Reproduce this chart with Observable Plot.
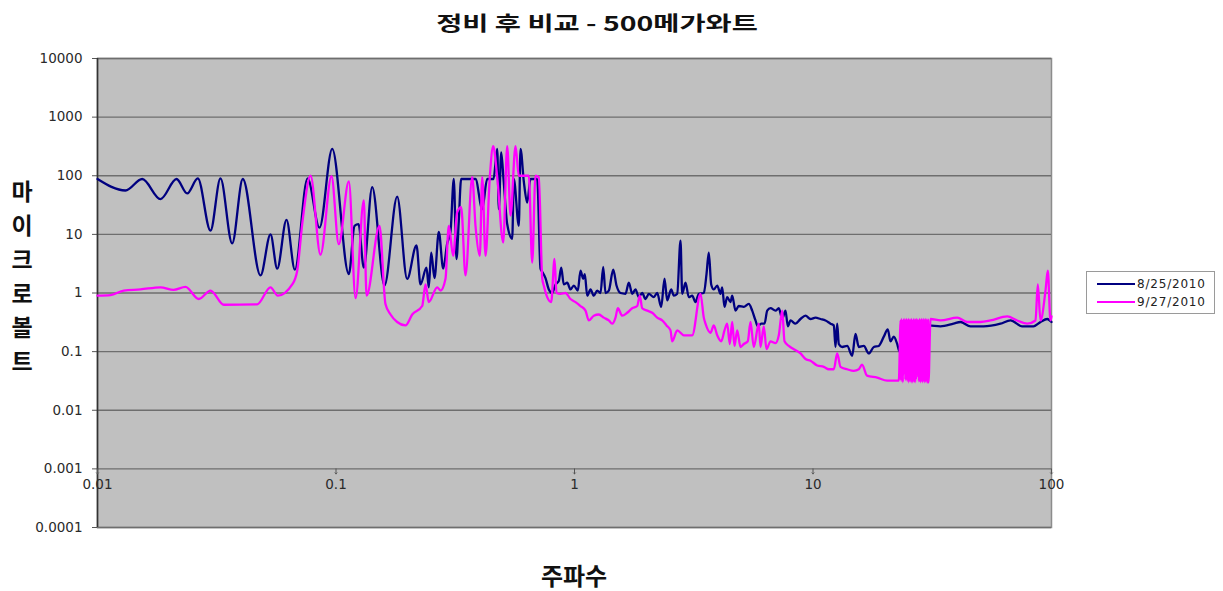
<!DOCTYPE html>
<html><head><meta charset="utf-8">
<script src="https://cdn.jsdelivr.net/npm/d3@7"></script>
<script src="https://cdn.jsdelivr.net/npm/@observablehq/plot@0.6"></script>
<style>
body{margin:0;background:#fff;}
#wrap{position:relative;width:1223px;height:591px;overflow:hidden;background:#fff;}
#wrap svg{position:absolute;left:0;top:0;}
.lbl{position:absolute;font-family:"Noto Sans CJK KR";font-weight:bold;color:#111;white-space:nowrap;}
#title{left:597px;top:22px;font-size:20px;transform:translate(-50%,-50%) scaleX(1.42);}
#xlabel{left:574px;top:574px;font-size:24px;transform:translate(-50%,-50%);}
#ylabel{left:22px;top:275px;font-size:23px;line-height:34px;text-align:center;transform:translate(-50%,-50%);}
#legend{position:absolute;left:1086px;top:271px;width:127px;height:41px;border:1px solid #9a9a9a;background:#fff;font-family:"DejaVu Sans";font-size:12px;letter-spacing:0.8px;color:#222;}
#legend .row{position:absolute;left:10px;height:18px;display:flex;align-items:center;}
#legend .sw{display:inline-block;width:38px;height:2px;margin-right:2px;}
</style>
</head><body>
<div id="wrap">
  <div id="title" class="lbl"></div>
  <div id="ylabel" class="lbl"></div>
  <div id="xlabel" class="lbl"></div>
  <div id="legend"></div>
</div>
<script>
const titleText = "정비 후 비교 - 500메가와트";
const xTitle = "주파수";
const yTitle = ["마","이","크","로","볼","트"];
const seriesNames = ["8/25/2010", "9/27/2010"];
const seriesColors = ["#000080", "#ff00ff"];

const xTicks = [0.01, 0.1, 1, 10, 100];
const xTickLabels = ["0.01", "0.1", "1", "10", "100"];
const yTicks = [0.0001, 0.001, 0.01, 0.1, 1, 10, 100, 1000, 10000];
const yTickLabels = ["0.0001", "0.001", "0.01", "0.1", "1", "10", "100", "1000", "10000"];

// 8/25/2010
const navyFreq = [
  0.01, 0.0131, 0.0154, 0.01837, 0.02145, 0.02377, 0.02634, 0.02977, 0.03278, 0.0367,
  0.04066, 0.04825, 0.05314, 0.05669, 0.06201, 0.06721, 0.076, 0.08527, 0.09641, 0.1132,
  0.1196, 0.1243, 0.1308, 0.1418, 0.1597, 0.1805, 0.1988, 0.2175, 0.2261, 0.2396,
  0.2449, 0.2507, 0.2588, 0.2698, 0.2815, 0.2925, 0.302, 0.3118, 0.32, 0.3272,
  0.3348, 0.3845, 0.4102, 0.4305, 0.4575, 0.4742, 0.4816, 0.4929, 0.5039, 0.5222,
  0.5481, 0.5566, 0.5842, 0.5938, 0.613, 0.6335, 0.6539, 0.6975, 0.7202, 0.7321,
  0.7558, 0.7803, 0.8063, 0.8325, 0.8595, 0.8796, 0.9019, 0.932, 0.9622, 0.9933,
  1.0324, 1.0597, 1.0877, 1.1046, 1.1305, 1.1672, 1.205, 1.2452, 1.2855, 1.3195,
  1.349, 1.3927, 1.4531, 1.5002, 1.5592, 1.6362, 1.6893, 1.7456, 1.8022, 1.8606,
  1.9226, 1.9849, 2.0492, 2.1504, 2.2221, 2.3097, 2.3845, 2.4475, 2.5438, 2.6084,
  2.6955, 2.7828, 2.8288, 2.9204, 3.015, 3.1155, 3.2165, 3.3205, 3.4847, 3.5767,
  3.6569, 3.7426, 3.8376, 3.9656, 4.0941, 4.1618, 4.2553, 4.3676, 4.509, 4.5836,
  4.7323, 4.8856, 5.127, 5.3801, 5.5598, 5.7398, 5.8687, 6.0645, 6.261, 6.4265,
  6.6347, 6.9628, 7.1885, 7.4284, 7.6692, 7.8417, 8.0484, 8.446, 8.8635, 9.3018,
  9.7617, 10.245, 10.751, 11.283, 11.84, 12.224, 12.426, 12.632, 12.829, 13.257,
  13.912, 14.599, 15.072, 15.559, 16.331, 17.138, 17.985, 18.873, 19.805, 20.585,
  21.128, 21.812, 22.54, 23.046, 25.64, 30.5, 34.24, 38.83, 41.53, 45.75,
  51.87, 61.12, 67.31, 75.36, 84.05, 89.94, 95.94, 100];
const navyVal = [
  88, 56, 88, 40, 88, 50, 90, 11.6, 90, 7,
  88, 2, 10, 2.6, 17.7, 2.5, 90, 13, 288, 2.1,
  14, 15, 2.7, 64, 1.34, 44, 1.74, 6.5, 1.4, 2.7,
  1.25, 4.9, 1.8, 11, 2.6, 7, 11, 88, 3.8, 17,
  88, 88, 27, 88, 88, 288, 27, 250, 88, 15,
  8.4, 88, 14, 288, 80, 35, 88, 88, 2.6, 2.3,
  1.8, 1.15, 1.0, 1.4, 1.6, 2.7, 1.4, 1.5, 1.15, 1.34,
  1.1, 2.4, 1.75, 2.1, 0.9, 1.15, 0.9, 1.1, 1.0, 2.8,
  1.0, 1.1, 2.5, 1.34, 1.0, 0.97, 1.5, 0.97, 1.15, 0.85,
  1.0, 0.79, 0.97, 0.85, 1.0, 0.58, 1.75, 0.75, 1.15, 0.9,
  0.97, 7.8, 0.97, 1.5, 0.85, 0.9, 0.7, 0.97, 1.0, 2.1,
  4.9, 1.4, 1.15, 1.34, 0.97, 1.25, 0.58, 0.85, 0.7, 0.9,
  0.5, 0.6, 0.58, 0.65, 0.5, 0.34, 0.27, 0.3, 0.3, 0.5,
  0.55, 0.5, 0.55, 0.36, 0.5, 0.27, 0.34, 0.3, 0.36, 0.41,
  0.36, 0.38, 0.36, 0.34, 0.3, 0.28, 0.12, 0.3, 0.135, 0.12,
  0.125, 0.085, 0.2, 0.12, 0.125, 0.093, 0.12, 0.125, 0.18, 0.24,
  0.15, 0.18, 0.135, 0.1, 0.2, 0.28, 0.27, 0.3, 0.32, 0.27,
  0.27, 0.3, 0.34, 0.27, 0.27, 0.32, 0.36, 0.32];

// 9/27/2010
const pinkFreq = [
  0.01, 0.01134, 0.01289, 0.01514, 0.01837, 0.02083, 0.02339, 0.02659, 0.02977, 0.03385,
  0.04673, 0.05314, 0.05702, 0.06554, 0.06877, 0.07217, 0.07822, 0.0861, 0.09574, 0.1027,
  0.1132, 0.1208, 0.1308, 0.1343, 0.1522, 0.1612, 0.1693, 0.1805, 0.1956, 0.2087,
  0.2298, 0.2373, 0.2449, 0.2656, 0.2743, 0.2878, 0.2971, 0.31, 0.3222, 0.3349,
  0.3491, 0.3725, 0.3845, 0.4009, 0.4103, 0.4236, 0.4414, 0.4561, 0.4742, 0.5024,
  0.5222, 0.5392, 0.5658, 0.5841, 0.6433, 0.6647, 0.6862, 0.7084, 0.7321, 0.7435,
  0.7683, 0.7986, 0.8244, 0.8405, 0.8736, 0.9168, 0.9622, 1.0097, 1.0597, 1.112,
  1.1481, 1.205, 1.2645, 1.3271, 1.3927, 1.4391, 1.4857, 1.5191, 1.5849, 1.6632,
  1.7456, 1.8319, 1.8784, 1.9226, 2.0178, 2.1174, 2.2221, 2.332, 2.431, 2.5266,
  2.5683, 2.6955, 2.8727, 3.1155, 3.3752, 3.4847, 3.542, 3.7171, 3.8376, 3.9656,
  4.1218, 4.2553, 4.3676, 4.4787, 4.5836, 4.6866, 4.8103, 4.9664, 5.127, 5.3282,
  5.4692, 5.6461, 5.9255, 6.0235, 6.2186, 6.383, 6.6347, 6.9628, 7.1885, 7.4284,
  7.5953, 7.9174, 8.3084, 8.8635, 9.3018, 9.7617, 10.414, 11.1, 11.647, 12.224,
  12.632, 13.041, 13.912, 14.83, 15.559, 16.052, 16.846, 18.58, 20.47, 22.9,
  23.3, 23.4, 23.5, 23.6, 23.7, 23.8, 23.9, 24.0, 24.1, 24.2,
  24.3, 24.4, 24.5, 24.6, 24.7, 24.8, 24.9, 25.0, 25.1, 25.2,
  25.3, 25.4, 25.5, 25.6, 25.7, 25.8, 25.9, 26.0, 26.1, 26.2,
  26.3, 26.4, 26.5, 26.6, 26.7, 26.8, 26.9, 27.0, 27.1, 27.2,
  27.3, 27.4, 27.5, 27.6, 27.7, 27.8, 27.9, 28.0, 28.1, 28.2,
  28.3, 28.4, 28.5, 28.6, 28.7, 28.8, 28.9, 29.0, 29.1, 29.2,
  29.3, 29.4, 29.5, 29.6, 29.7, 29.8, 29.9, 30.0, 30.1, 30.2,
  30.3, 30.4, 30.5,
  31.09, 34.24, 40.23, 44.31, 50.39, 55.49, 65.22, 71.82, 79.11, 85.68,
  87.61, 89.94, 94.37, 96.49, 99.0, 100];
const pinkVal = [
  0.9, 0.92, 1.1, 1.15, 1.25, 1.13, 1.27, 0.79, 1.1, 0.63,
  0.64, 1.25, 0.9, 1.4, 2.4, 15, 100, 4.5, 98, 6.8,
  80, 0.82, 38, 0.9, 14, 0.65, 0.43, 0.32, 0.28, 0.43,
  0.6, 1.4, 0.7, 1.25, 1.1, 1.75, 14, 4.3, 24, 29,
  2, 95, 14, 4.3, 95, 4.3, 95, 320, 95, 7.3,
  320, 21, 320, 100, 100, 3.3, 100, 95, 1.8, 1.34,
  0.85, 0.7, 3.8, 1.0, 0.97, 1.0, 0.79, 0.7, 0.6, 0.5,
  0.34, 0.41, 0.43, 0.38, 0.34, 0.3, 0.38, 0.55, 0.41, 0.46,
  0.55, 0.6, 0.9, 0.55, 0.5, 0.46, 0.38, 0.34, 0.28, 0.23,
  0.15, 0.23, 0.19, 0.19, 0.97, 0.38, 0.3, 0.21, 0.28, 0.19,
  0.15, 0.23, 0.3, 0.135, 0.32, 0.125, 0.23, 0.12, 0.135, 0.15,
  0.32, 0.12, 0.3, 0.12, 0.27, 0.11, 0.15, 0.14, 0.19, 0.5,
  0.15, 0.125, 0.11, 0.093, 0.075, 0.07, 0.058, 0.055, 0.05, 0.05,
  0.093, 0.055, 0.05, 0.047, 0.05, 0.06, 0.039, 0.036, 0.032, 0.032,
  0.34, 0.032, 0.36, 0.035, 0.33, 0.03, 0.35, 0.04, 0.36, 0.045,
  0.34, 0.033, 0.35, 0.04, 0.36, 0.032, 0.34, 0.035, 0.36, 0.03,
  0.35, 0.032, 0.34, 0.036, 0.35, 0.03, 0.36, 0.034, 0.33, 0.03,
  0.35, 0.038, 0.36, 0.031, 0.34, 0.03, 0.35, 0.033, 0.36, 0.04,
  0.34, 0.045, 0.35, 0.036, 0.33, 0.031, 0.36, 0.034, 0.35, 0.03,
  0.34, 0.032, 0.36, 0.038, 0.35, 0.03, 0.34, 0.033, 0.36, 0.035,
  0.35, 0.03, 0.34, 0.032, 0.36, 0.03, 0.35, 0.034, 0.33, 0.03,
  0.35, 0.031, 0.03,
  0.36, 0.34, 0.38, 0.32, 0.32, 0.34, 0.4, 0.34, 0.3, 0.34,
  1.4, 0.34, 1.1, 2.4, 0.34, 0.4];

const navy = navyFreq.map((f, i) => ({f, v: navyVal[i]}));
const pink = pinkFreq.map((f, i) => ({f, v: pinkVal[i]}));
const yLabelMap = new Map(yTicks.map((t, i) => [t, yTickLabels[i]]));

const chart = Plot.plot({
  width: 1223, height: 591,
  marginTop: 58, marginBottom: 64, marginLeft: 97, marginRight: 172,
  style: {background: "transparent", fontFamily: "DejaVu Sans", fontSize: "13.5px", color: "#2a2a2a", overflow: "visible"},
  x: {type: "log", domain: [0.01, 100], axis: null},
  y: {type: "log", domain: [0.0001, 10000], axis: null},
  marks: [
    Plot.frame({fill: "#c0c0c0", stroke: "#8c8c8c", strokeWidth: 1.5}),
    Plot.gridY(yTicks, {stroke: "#6e6e6e", strokeOpacity: 1, strokeWidth: 1.3}),
    Plot.axisY(yTicks, {label: null, tickFormat: d => yLabelMap.get(d), tickSize: 5, tickPadding: 10, stroke: "#555", style: "letter-spacing:1.8px"}),
    Plot.ruleX([0.01], {stroke: "#333", strokeWidth: 1.6}),
    Plot.vector(xTicks, {x: d => d, y: () => 0.001, length: 5, rotate: 180, anchor: "start", stroke: "#555", strokeWidth: 1}),
    Plot.text(xTicks, {x: d => d, y: () => 0.001, text: (d, i) => xTickLabels[i], dy: 16, fill: "#2a2a2a", style: "letter-spacing:1.8px"}),
    Plot.line(navy, {x: "f", y: "v", stroke: seriesColors[0], strokeWidth: 2.3, curve: "monotone-x"}),
    Plot.line(pink, {x: "f", y: "v", stroke: seriesColors[1], strokeWidth: 2.3, curve: "monotone-x"})
  ]
});
const wrap = document.getElementById("wrap");
wrap.insertBefore(chart, wrap.firstChild);

document.getElementById("title").textContent = titleText;
document.getElementById("xlabel").textContent = xTitle;
document.getElementById("ylabel").innerHTML = yTitle.join("<br>");
const legend = document.getElementById("legend");
seriesNames.forEach((name, i) => {
  const row = document.createElement("div");
  row.className = "row";
  row.style.top = (3 + i * 18) + "px";
  const sw = document.createElement("span");
  sw.className = "sw";
  sw.style.background = seriesColors[i];
  const tx = document.createElement("span");
  tx.textContent = name;
  row.appendChild(sw);
  row.appendChild(tx);
  legend.appendChild(row);
});
</script>
</body></html>
